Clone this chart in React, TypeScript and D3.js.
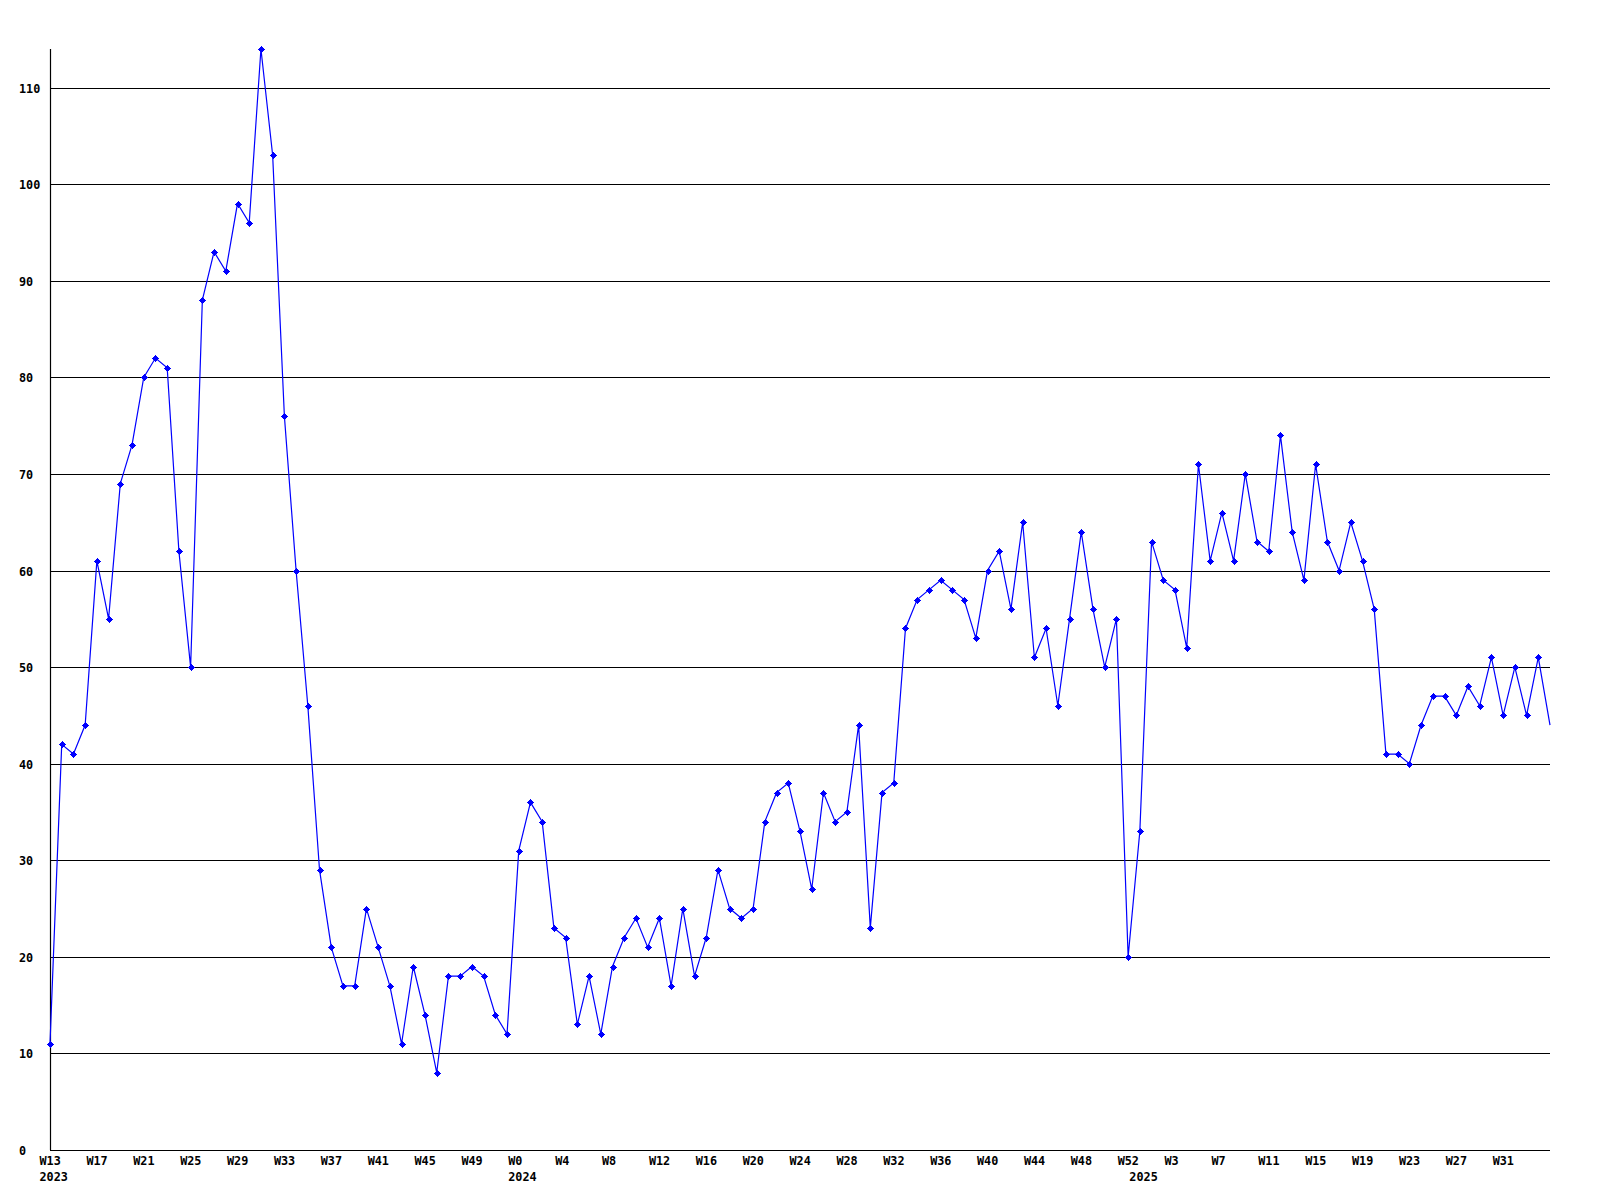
import React from "react";
import * as d3 from "d3";

const values: number[] = [
  11, 42, 41, 44, 61, 55, 69, 73, 80, 82, 81, 62, 50, 88, 93, 91, 98, 96, 114, 103,
  76, 60, 46, 29, 21, 17, 17, 25, 21, 17, 11, 19, 14, 8, 18, 18, 19, 18, 14, 12,
  31, 36, 34, 23, 22, 13, 18, 12, 19, 22, 24, 21, 24, 17, 25, 18, 22, 29, 25, 24,
  25, 34, 37, 38, 33, 27, 37, 34, 35, 44, 23, 37, 38, 54, 57, 58, 59, 58, 57, 53,
  60, 62, 56, 65, 51, 54, 46, 55, 64, 56, 50, 55, 20, 33, 63, 59, 58, 52, 71, 61,
  66, 61, 70, 63, 62, 74, 64, 59, 71, 63, 60, 65, 61, 56, 41, 41, 40, 44, 47, 47,
  45, 48, 46, 51, 45, 50, 45, 51, 44,
];

const tickLabels: string[] = [
  "W13", "W17", "W21", "W25", "W29", "W33", "W37", "W41", "W45", "W49",
  "W0", "W4", "W8", "W12", "W16", "W20", "W24", "W28", "W32", "W36", "W40", "W44", "W48", "W52",
  "W3", "W7", "W11", "W15", "W19", "W23", "W27", "W31",
];

const yearLabels: string[] = ["2023", "2024", "2025"];
const yearStartIndex: number[] = [0, 40, 93];

const yTicks: number[] = [0, 10, 20, 30, 40, 50, 60, 70, 80, 90, 100, 110];

export default function App() {
  const W = 1600;
  const H = 1200;
  const left = 50;
  const right = 1550;
  const bottom = 1150;
  const top = 49;
  const x = d3.scaleLinear().domain([0, values.length - 1]).range([left, right]);
  const y = d3.scaleLinear().domain([0, 114]).range([bottom, top]);
  const line = d3
    .line<number>()
    .x((_, i) => x(i))
    .y((d) => y(d));
  const font = "'DejaVu Sans Mono', monospace";
  const tickStep = 4;

  return (
    <svg
      width={W}
      height={H}
      style={{ position: "absolute", left: 0, top: 0, background: "#fff" }}
      fontFamily={font}
      fontWeight="bold"
      fontSize={11.8}
    >
      <rect x={0} y={0} width={W} height={H} fill="#fff" />
      {yTicks
        .filter((t) => t > 0)
        .map((t) => (
          <line
            key={"g" + t}
            x1={left}
            x2={right}
            y1={Math.round(y(t)) + 0.5}
            y2={Math.round(y(t)) + 0.5}
            stroke="#000"
            strokeWidth={1.2}
          />
        ))}
      {yTicks.map((t) => (
        <text key={"yl" + t} x={19} y={Math.round(y(t)) + 4.5} fill="#000">
          {t}
        </text>
      ))}
      <line x1={left + 0.5} x2={left + 0.5} y1={top} y2={bottom} stroke="#000" strokeWidth={1.2} />
      <line x1={left} x2={right} y1={bottom + 0.5} y2={bottom + 0.5} stroke="#000" strokeWidth={1.2} />
      {tickLabels.map((lab, k) => (
        <text key={"xl" + k} x={x(k * tickStep) - 10.5} y={1165} fill="#000">
          {lab}
        </text>
      ))}
      {yearLabels.map((lab, k) => (
        <text key={"yr" + k} x={x(yearStartIndex[k]) - 10.5} y={1181} fill="#000">
          {lab}
        </text>
      ))}
      <path d={line(values) || ""} fill="none" stroke="#0000ff" strokeWidth={1.2} />
      {values.slice(0, values.length - 1).map((v, i) => {
        const cx = Math.round(x(i));
        const cy = Math.round(y(v));
        return (
          <g key={"m" + i} fill="#0000ff" shapeRendering="crispEdges">
            <rect x={cx - 3} y={cy} width={7} height={1} />
            <rect x={cx} y={cy - 3} width={1} height={7} />
            <rect x={cx - 2} y={cy - 1} width={5} height={3} />
            <rect x={cx - 1} y={cy - 2} width={3} height={5} />
          </g>
        );
      })}
    </svg>
  );
}
